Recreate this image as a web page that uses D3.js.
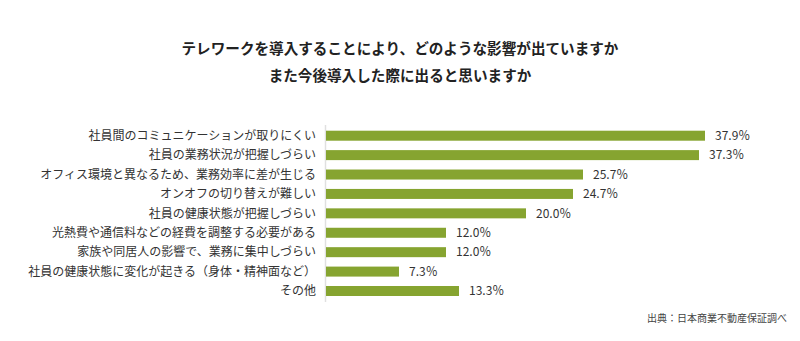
<!DOCTYPE html>
<html><head><meta charset="utf-8">
<script src="https://cdn.jsdelivr.net/npm/d3@7"></script>
<style>
html,body{margin:0;padding:0;background:#fff;}
svg{display:block;font-family:"Noto Sans CJK JP","Noto Sans",sans-serif;}
</style></head>
<body>
<svg id="chart" width="800" height="341"></svg>
<script>
const titleLines = ["テレワークを導入することにより、どのような影響が出ていますか", "また今後導入した際に出ると思いますか"];
const categories = [
  "社員間のコミュニケーションが取りにくい",
  "社員の業務状況が把握しづらい",
  "オフィス環境と異なるため、業務効率に差が生じる",
  "オンオフの切り替えが難しい",
  "社員の健康状態が把握しづらい",
  "光熱費や通信料などの経費を調整する必要がある",
  "家族や同居人の影響で、業務に集中しづらい",
  "社員の健康状態に変化が起きる（身体・精神面など）",
  "その他"
];
const values = [37.9, 37.3, 25.7, 24.7, 20.0, 12.0, 12.0, 7.3, 13.3];
const sourceText = "出典：日本商業不動産保証調べ";

const svg = d3.select("#chart");
const x = d3.scaleLinear().domain([0, 10]).range([326, 426]);
const y = d3.scaleBand().domain(categories).range([125.85, 300.85]).paddingInner(0.485).paddingOuter(0.25);

// title
svg.append("g").selectAll("text").data(titleLines).join("text")
  .attr("x", 400).attr("y", (d, i) => 54 + i * 27)
  .attr("text-anchor", "middle")
  .attr("font-size", 14.6).attr("font-weight", "bold").attr("fill", "#222")
  .text(d => d);

// axis line
svg.append("line").attr("x1", 325.5).attr("x2", 325.5).attr("y1", 125).attr("y2", 302)
  .attr("stroke", "#e0e0e0").attr("stroke-width", 1.5);

// bars
svg.append("g").selectAll("rect").data(values).join("rect")
  .attr("x", x(0)).attr("y", (d, i) => y(categories[i]))
  .attr("width", d => x(d) - x(0)).attr("height", y.bandwidth())
  .attr("fill", "#86a430");

// category labels
svg.append("g").selectAll("text").data(categories).join("text")
  .attr("x", 316).attr("y", d => y(d) + y.bandwidth() / 2)
  .attr("dy", "0.36em").attr("text-anchor", "end")
  .attr("font-size", 12).attr("fill", "#333")
  .text(d => d);

// value labels
svg.append("g").selectAll("text").data(values).join("text")
  .attr("x", d => x(d) + 10).attr("y", (d, i) => y(categories[i]) + y.bandwidth() / 2)
  .attr("dy", "0.36em")
  .attr("font-size", 12).attr("fill", "#333")
  .text(d => d.toFixed(1) + "％");

// source
svg.append("text").attr("x", 787).attr("y", 322).attr("text-anchor", "end")
  .attr("font-size", 10).attr("fill", "#444").text(sourceText);
</script>
</body></html>
